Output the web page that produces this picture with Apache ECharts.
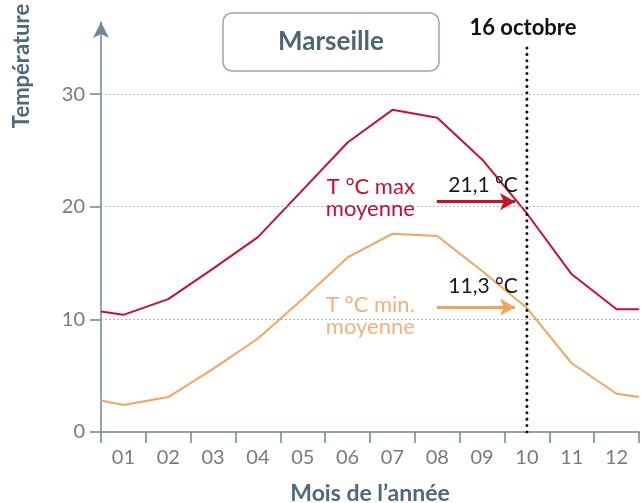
<!DOCTYPE html>
<html>
<head>
<meta charset="utf-8">
<script src="https://cdn.jsdelivr.net/npm/echarts@6/dist/echarts.min.js"></script>
<style>html,body{margin:0;padding:0;background:#fff;overflow:hidden}#c{width:642px;height:503px}</style>
</head>
<body>
<div id="c"></div>
<script>
// ---- data ----
const months = ['01','02','03','04','05','06','07','08','09','10','11','12'];
const tmax = [10.4, 11.8, 14.5, 17.3, 21.5, 25.7, 28.6, 27.9, 24.2, 19.4, 14.0, 10.9];
const tmaxEdges = [10.7, 10.9];   // 1 Jan, 31 Dec
const tmin = [2.4, 3.1, 5.6, 8.3, 11.8, 15.5, 17.6, 17.4, 14.3, 11.0, 6.1, 3.4];
const tminEdges = [2.8, 3.1];
const yTicks = [0, 10, 20, 30];
const markerMonth = 10, markerDay = 16, markerLabel = '16 octobre';
const valMaxLabel = '21,1 °C', valMinLabel = '11,3 °C';
const cityName = 'Marseille';

// ---- build ----
function buildLine(vals, edges) {
  return [[0, edges[0]]].concat(vals.map((v, i) => [i + 0.5, v])).concat([[12, edges[1]]]);
}
const markerX = markerMonth - 1 + (markerDay - 0.5) / 31;
const FONT = 'Lato';
const axisColor = '#6a8898';
const redLine = '#c8102e', orangeLine = '#f2a65a';

const chart = echarts.init(document.getElementById('c'), null, {renderer: 'canvas'});
chart.setOption({
  animation: false,
  backgroundColor: '#fff',
  textStyle: {fontFamily: FONT},
  title: {
    text: cityName, left: 223, top: 13, padding: [15, 55],
    borderColor: '#98a6ae', borderWidth: 1.5, borderRadius: 9,
    textStyle: {fontFamily: FONT, fontSize: 26, lineHeight: 28, fontWeight: 'bold', color: '#4f6672'}
  },
  grid: {left: 101, right: 3, top: 22, bottom: 71, containLabel: false, outerBoundsMode: 'none'},
  xAxis: [{
    type: 'category', data: months, boundaryGap: true,
    axisLine: {lineStyle: {color: axisColor, width: 1.5}},
    axisTick: {show: true, length: 11, lineStyle: {color: axisColor, width: 1.5}},
    axisLabel: {color: '#7a7a7a', fontSize: 20, margin: 16, fontFamily: FONT},
    splitLine: {show: false},
    name: 'Mois de l\u2019année', nameLocation: 'middle', nameGap: 50,
    nameTextStyle: {fontFamily: FONT, fontSize: 23, fontWeight: 'bold', color: '#4d6a7b'}
  }, {
    type: 'value', min: 0, max: 12, show: false
  }],
  yAxis: {
    type: 'value', min: 0, max: 36.4,
    axisLine: {show: true, symbol: ['none', 'arrow'], symbolSize: [12, 16], lineStyle: {color: axisColor, width: 1.5}},
    axisTick: {show: true, length: 11, customValues: yTicks, lineStyle: {color: axisColor, width: 1.5}},
    axisLabel: {color: '#7a7a7a', fontSize: 20, margin: 16, customValues: yTicks, fontFamily: FONT},
    splitLine: {show: false}
  },
  graphic: [{
    type: 'text', x: 22, y: 66, rotation: Math.PI / 2,
    style: {text: 'Température', x: 0, y: 0, align: 'center', verticalAlign: 'middle',
      font: 'bold 22px ' + FONT, fill: '#4d6a7b'}
  }],
  series: [{
    type: 'line', xAxisIndex: 1, data: [], silent: true, z: 1,
    markLine: {
      silent: true, symbol: 'none', label: {show: false},
      lineStyle: {color: '#a6bccb', width: 1, type: [2, 2]},
      data: yTicks.filter(v => v > 0).map(v => ({yAxis: v}))
    }
  }, {
    name: 'max', type: 'line', xAxisIndex: 1, data: buildLine(tmax, tmaxEdges),
    symbol: 'none', lineStyle: {color: redLine, width: 2}, z: 3,
    markPoint: {
      symbol: 'circle', symbolSize: 0, silent: true,
      data: [
        {coord: [7.0, 20.8], label: {show: true, position: 'inside', align: 'right', formatter: 'T °C max\nmoyenne',
          fontSize: 22, lineHeight: 22, color: '#c8102e', fontFamily: FONT}},
        {coord: [8.52, 21.9], label: {show: true, position: 'inside', formatter: valMaxLabel,
          fontSize: 21, color: '#1a1a1a', fontFamily: FONT}}
      ]
    },
    markLine: {
      silent: true, symbol: ['none', 'arrow'], symbolSize: [13, 15], label: {show: false},
      lineStyle: {color: '#d0101e', width: 3, type: 'solid'},
      data: [[{coord: [7.49, 20.45]}, {coord: [9.235, 20.45]}]]
    }
  }, {
    name: 'min', type: 'line', xAxisIndex: 1, data: buildLine(tmin, tminEdges),
    symbol: 'none', lineStyle: {color: orangeLine, width: 2}, z: 3,
    markPoint: {
      symbol: 'circle', symbolSize: 0, silent: true,
      data: [
        {coord: [7.0, 10.3], label: {show: true, position: 'inside', align: 'right', formatter: 'T °C min.\nmoyenne',
          fontSize: 22, lineHeight: 22, color: '#f3b07a', fontFamily: FONT}},
        {coord: [8.52, 12.9], label: {show: true, position: 'inside', formatter: valMinLabel,
          fontSize: 21, color: '#1a1a1a', fontFamily: FONT}}
      ]
    },
    markLine: {
      silent: true, symbol: ['none', 'arrow'], symbolSize: [13, 15], label: {show: false},
      lineStyle: {color: '#f0a45a', width: 3, type: 'solid'},
      data: [[{coord: [7.49, 11.08]}, {coord: [9.235, 11.08]}]]
    }
  }, {
    name: 'marker', type: 'line', xAxisIndex: 1, z: 4, silent: true,
    data: [[markerX, 0], [markerX, 34.1]],
    symbol: 'none',
    lineStyle: {color: '#111', width: 3, type: [0.1, 6.3], cap: 'round'},
    markPoint: {
      symbol: 'circle', symbolSize: 0, silent: true,
      data: [{coord: [markerX, 34.1], label: {show: true, position: 'top', distance: 9, offset: [-4, 0],
        formatter: markerLabel, fontSize: 22, fontWeight: 'bold', color: '#111', fontFamily: FONT}}]
    }
  }]
});
</script>
</body>
</html>
